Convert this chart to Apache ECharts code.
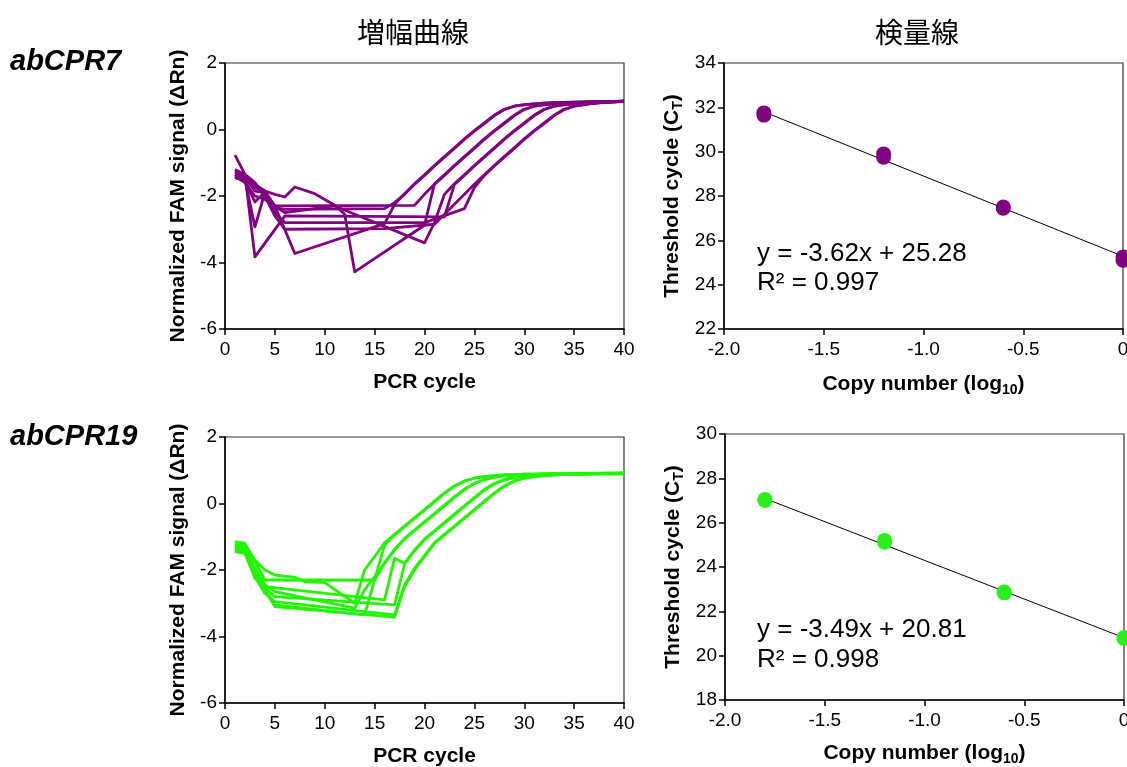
<!DOCTYPE html>
<html><head><meta charset="utf-8">
<script src="https://cdn.jsdelivr.net/npm/echarts@6/dist/echarts.min.js"></script>
<style>html,body{margin:0;padding:0;background:#fff}#c{width:1127px;height:767px}</style>
</head><body><div id="c"></div><script>
// ---------- data ----------
const titles = ['増幅曲線', '検量線'];
const geneLabels = ['abCPR7', 'abCPR19'];
const ampTicksX = [0, 40, 5];
const ampTicksY = [-6, 2, 2];

// abCPR7 amplification curves [cycle, normalized signal]
const p7_A1 = [[1,-1.3],[2,-1.45],[3,-1.85],[4,-1.9],[5,-2.35],[6,-2.4],[16,-2.38],[17,-2.2],[18,-1.95],[19,-1.65],[20,-1.38],[21,-1.1],[22,-0.83],[23,-0.57],[24,-0.3],[25,-0.05],[26,0.18],[27,0.42],[28,0.6],[29,0.7],[30,0.74],[31,0.77],[32,0.79],[33,0.805],[34,0.815],[35,0.825],[36,0.83],[37,0.835],[38,0.84],[39,0.845],[40,0.85]];
const p7_A2 = [[1,-1.4],[2,-1.6],[3,-2.0],[4,-2.1],[5,-2.3],[7,-3.73],[16,-2.83],[17,-2.25],[18,-1.93],[19,-1.63],[20,-1.36],[21,-1.08],[22,-0.81],[23,-0.55],[24,-0.28],[25,-0.03],[26,0.2],[27,0.43],[28,0.61],[29,0.7],[30,0.745],[31,0.77],[32,0.79],[33,0.805],[34,0.815],[35,0.825],[36,0.83],[37,0.835],[38,0.84],[39,0.845],[40,0.85]];
const p7_B1 = [[1,-1.25],[2,-1.4],[3,-1.65],[4,-1.85],[5,-2.3],[19,-2.28],[20,-1.95],[21,-1.65],[22,-1.38],[23,-1.1],[24,-0.83],[25,-0.57],[26,-0.3],[27,-0.05],[28,0.18],[29,0.42],[30,0.6],[31,0.7],[32,0.74],[33,0.77],[34,0.79],[35,0.805],[36,0.815],[37,0.825],[38,0.83],[39,0.84],[40,0.85]];
const p7_B2 = [[1,-1.35],[2,-1.5],[3,-1.75],[4,-1.85],[5,-1.95],[6,-2.03],[7,-1.73],[9,-1.93],[11,-2.28],[12,-2.55],[13,-4.28],[20,-2.88],[21,-1.63],[22,-1.36],[23,-1.08],[24,-0.81],[25,-0.55],[26,-0.28],[27,-0.03],[28,0.2],[29,0.43],[30,0.61],[31,0.7],[32,0.745],[33,0.77],[34,0.79],[35,0.805],[36,0.815],[37,0.825],[38,0.83],[39,0.84],[40,0.85]];
const p7_C1 = [[1,-0.77],[2,-1.35],[3,-3.83],[6,-2.6],[22,-2.63],[23,-1.65],[24,-1.38],[25,-1.1],[26,-0.83],[27,-0.57],[28,-0.3],[29,-0.05],[30,0.18],[31,0.42],[32,0.6],[33,0.7],[34,0.74],[35,0.77],[36,0.79],[37,0.805],[38,0.82],[39,0.835],[40,0.845]];
const p7_C2 = [[1,-1.45],[2,-1.55],[3,-2.18],[4,-1.88],[5,-2.3],[6,-2.5],[11,-2.3],[20,-3.41],[21,-2.8],[22,-1.95],[23,-1.63],[24,-1.36],[25,-1.08],[26,-0.81],[27,-0.55],[28,-0.28],[29,-0.03],[30,0.2],[31,0.43],[32,0.61],[33,0.7],[34,0.745],[35,0.77],[36,0.79],[37,0.805],[38,0.82],[39,0.835],[40,0.845]];
const p7_D1 = [[1,-1.35],[2,-1.5],[3,-2.93],[4,-1.9],[5,-2.5],[6,-2.8],[20,-2.8],[24,-2.38],[25,-1.75],[26,-1.38],[27,-1.1],[28,-0.83],[29,-0.57],[30,-0.3],[31,-0.05],[32,0.18],[33,0.42],[34,0.6],[35,0.7],[36,0.75],[37,0.79],[38,0.815],[39,0.835],[40,0.85]];
const p7_D2 = [[1,-1.2],[2,-1.35],[3,-1.6],[4,-2.0],[5,-2.6],[6,-3.0],[16,-2.98],[21,-2.85],[23,-2.25],[24,-1.95],[25,-1.65],[26,-1.36],[27,-1.08],[28,-0.81],[29,-0.55],[30,-0.28],[31,-0.03],[32,0.2],[33,0.43],[34,0.61],[35,0.7],[36,0.75],[37,0.79],[38,0.815],[39,0.835],[40,0.85]];

// abCPR19 amplification curves
const p19_A1 = [[1,-1.15],[2,-1.2],[3,-1.75],[4,-2.3],[15,-2.3],[16,-1.25],[17,-0.95],[18,-0.7],[19,-0.45],[20,-0.2],[21,0.05],[22,0.3],[23,0.52],[24,0.67],[25,0.76],[26,0.81],[27,0.84],[28,0.86],[29,0.87],[30,0.88],[31,0.885],[32,0.89],[33,0.895],[34,0.9],[35,0.9],[36,0.905],[37,0.905],[38,0.91],[39,0.91],[40,0.91]];
const p19_A2 = [[1,-1.3],[2,-1.25],[3,-1.7],[4,-2.0],[5,-2.15],[7,-2.22],[8,-2.35],[10,-2.38],[13,-3.0],[14,-2.0],[15,-1.6],[16,-1.18],[17,-0.93],[18,-0.68],[19,-0.43],[20,-0.18],[21,0.07],[22,0.32],[23,0.53],[24,0.68],[25,0.76],[26,0.81],[27,0.84],[28,0.86],[29,0.87],[30,0.88],[31,0.885],[32,0.89],[33,0.895],[34,0.9],[35,0.9],[36,0.905],[37,0.905],[38,0.91],[39,0.91],[40,0.91]];
const p19_B1 = [[1,-1.2],[2,-1.3],[3,-1.95],[4,-2.45],[5,-2.65],[13,-3.15],[14,-2.6],[15,-2.2],[16,-1.8],[17,-1.4],[18,-1.07],[19,-0.82],[20,-0.57],[21,-0.32],[22,-0.07],[23,0.18],[24,0.42],[25,0.6],[26,0.72],[27,0.79],[28,0.83],[29,0.85],[30,0.865],[31,0.875],[32,0.883],[33,0.888],[34,0.893],[35,0.897],[36,0.9],[37,0.903],[38,0.905],[39,0.908],[40,0.91]];
const p19_B2 = [[1,-1.35],[2,-1.4],[3,-2.1],[4,-2.6],[5,-3.05],[14,-3.35],[15,-2.3],[16,-1.78],[17,-1.38],[18,-1.05],[19,-0.8],[20,-0.55],[21,-0.3],[22,-0.05],[23,0.2],[24,0.43],[25,0.61],[26,0.72],[27,0.79],[28,0.83],[29,0.85],[30,0.865],[31,0.875],[32,0.883],[33,0.888],[34,0.893],[35,0.897],[36,0.9],[37,0.903],[38,0.905],[39,0.908],[40,0.91]];
const p19_C1 = [[1,-1.25],[2,-1.35],[3,-2.2],[4,-2.5],[16,-2.9],[17,-1.65],[18,-1.8],[19,-1.4],[20,-1.07],[21,-0.82],[22,-0.57],[23,-0.32],[24,-0.07],[25,0.18],[26,0.42],[27,0.6],[28,0.72],[29,0.79],[30,0.83],[31,0.85],[32,0.865],[33,0.875],[34,0.883],[35,0.888],[36,0.893],[37,0.897],[38,0.9],[39,0.903],[40,0.905]];
const p19_C2 = [[1,-1.4],[2,-1.45],[3,-2.25],[4,-2.55],[5,-2.8],[17,-3.05],[18,-1.82],[19,-1.42],[20,-1.09],[21,-0.84],[22,-0.59],[23,-0.34],[24,-0.09],[25,0.16],[26,0.4],[27,0.59],[28,0.71],[29,0.78],[30,0.83],[31,0.85],[32,0.865],[33,0.875],[34,0.883],[35,0.888],[36,0.893],[37,0.897],[38,0.9],[39,0.903],[40,0.905]];
const p19_D1 = [[1,-1.3],[2,-1.35],[3,-2.0],[4,-2.6],[5,-3.1],[17,-3.42],[18,-2.5],[19,-2.0],[20,-1.6],[21,-1.2],[22,-0.95],[23,-0.7],[24,-0.45],[25,-0.2],[26,0.05],[27,0.3],[28,0.52],[29,0.67],[30,0.76],[31,0.81],[32,0.84],[33,0.86],[34,0.87],[35,0.88],[36,0.885],[37,0.89],[38,0.895],[39,0.9],[40,0.905]];
const p19_D2 = [[1,-1.45],[2,-1.5],[3,-2.2],[4,-2.7],[5,-2.95],[17,-3.35],[18,-2.45],[19,-1.95],[20,-1.57],[21,-1.18],[22,-0.93],[23,-0.68],[24,-0.43],[25,-0.18],[26,0.07],[27,0.31],[28,0.53],[29,0.68],[30,0.76],[31,0.81],[32,0.84],[33,0.86],[34,0.87],[35,0.88],[36,0.885],[37,0.89],[38,0.895],[39,0.9],[40,0.905]];

// standard curves
const logCopies = [-1.8, -1.8, -1.2, -1.2, -0.6, -0.6, 0, 0];
const ct7 = [31.75, 31.65, 29.9, 29.75, 27.5, 27.45, 25.25, 25.1];
const ct19 = [27.05, 27.0, 25.2, 25.12, 22.87, 22.83, 20.82, 20.78];
const fit7 = [-3.62, 25.28];   // slope, intercept
const fit19 = [-3.49, 20.81];
const r2 = [0.997, 0.998];
const fitRange = [-1.8, 0];
const ctRange7 = [22, 34];
const ctRange19 = [18, 30];
const logTicks = [-2, 0, 0.5];

const purple = '#800080';
const green = '#22f500';
const dotGreen = '#2bef1a';
const FF = '"Liberation Sans", Arial, sans-serif';

// ---------- chart ----------
const grids = [
  {left: 225, top: 63, width: 399, height: 266},
  {left: 724, top: 63, width: 399, height: 266},
  {left: 225, top: 437, width: 399, height: 266},
  {left: 725, top: 434, width: 399, height: 266}
].map(g => Object.assign(g, {show: true, borderColor: '#333', borderWidth: 1.2, backgroundColor: 'transparent',
  containLabel: false, outerBoundsMode: 'none'}));

const axisLine = {show: true, onZero: false, lineStyle: {color: '#000', width: 1.5}};
const axisTick = {show: true, inside: false, length: 6, lineStyle: {color: '#000', width: 1.5}};
const labelStyle = {color: '#000', fontSize: 19, fontFamily: FF};
const nameStyle = {color: '#000', fontSize: 21, fontWeight: 'bold', fontFamily: FF, lineHeight: 26,
  rich: {s: {fontSize: 14, fontWeight: 'bold', fontFamily: FF, color: '#000', lineHeight: 14, verticalAlign: 'bottom'}}};

function xAx(gi, rng, name, fmt, gap) {
  return {type: 'value', gridIndex: gi, min: rng[0], max: rng[1], interval: rng[2],
    axisLine, axisTick, splitLine: {show: false},
    axisLabel: Object.assign({margin: 11, formatter: fmt}, labelStyle),
    name, nameLocation: 'middle', nameGap: gap, nameTextStyle: nameStyle};
}
function yAx(gi, min, max, name, gap) {
  return {type: 'value', gridIndex: gi, min, max, interval: 2,
    axisLine, axisTick, splitLine: {show: false},
    axisLabel: Object.assign({margin: 8}, labelStyle),
    name, nameLocation: 'middle', nameGap: gap, nameTextStyle: nameStyle};
}
const logFmt = v => (v === 0 ? '0' : v.toFixed(1));

const xAxes = [
  xAx(0, ampTicksX, 'PCR cycle', v => String(v), 40),
  xAx(1, logTicks, 'Copy number (log{s|10})', logFmt, 42),
  xAx(2, ampTicksX, 'PCR cycle', v => String(v), 40),
  xAx(3, logTicks, 'Copy number (log{s|10})', logFmt, 40)
];
const yAxes = [
  yAx(0, ampTicksY[0], ampTicksY[1], 'Normalized FAM signal (ΔRn)', 34),
  yAx(1, ctRange7[0], ctRange7[1], 'Threshold cycle (C{s|T})', 39),
  yAx(2, ampTicksY[0], ampTicksY[1], 'Normalized FAM signal (ΔRn)', 34),
  yAx(3, ctRange19[0], ctRange19[1], 'Threshold cycle (C{s|T})', 39)
];

function ampSeries(data, gi, color) {
  return {type: 'line', xAxisIndex: gi, yAxisIndex: gi, data, symbol: 'none', smooth: false,
    lineStyle: {color, width: 2.8, join: 'round'}, silent: true, animation: false};
}
const curves7 = [p7_A1, p7_A2, p7_B1, p7_B2, p7_C1, p7_C2, p7_D1, p7_D2];
const curves19 = [p19_A1, p19_A2, p19_B1, p19_B2, p19_C1, p19_C2, p19_D1, p19_D2];

function fitLine(fit, gi) {
  return {type: 'line', xAxisIndex: gi, yAxisIndex: gi, symbol: 'none', z: 2,
    data: fitRange.map(x => [x, fit[0] * x + fit[1]]),
    lineStyle: {color: '#000', width: 1}, animation: false};
}
function dots(ys, gi, color) {
  return {type: 'scatter', xAxisIndex: gi, yAxisIndex: gi, symbolSize: 15, clip: false, z: 3,
    data: logCopies.map((x, i) => [x, ys[i]]), itemStyle: {color, opacity: 1}, animation: false};
}

const series = []
  .concat(curves7.map(d => ampSeries(d, 0, purple)))
  .concat(curves19.map(d => ampSeries(d, 2, green)))
  .concat([fitLine(fit7, 1), dots(ct7, 1, purple), fitLine(fit19, 3), dots(ct19, 3, dotGreen)]);

function eq(fit) {
  const b = fit[1].toFixed(2), m = fit[0].toFixed(2);
  return 'y = ' + m + 'x + ' + b;
}
function txt(x, y, text, font, align) {
  return {type: 'text', x, y, silent: true,
    style: {text, font, fill: '#000', textAlign: align || 'left', textVerticalAlign: 'middle', align: align || 'left', verticalAlign: 'middle'}};
}
const eqFont = '26px ' + FF;
const graphic = [
  txt(413, 32, titles[0], '28px "Noto Sans CJK JP"', 'center'),
  txt(917, 32, titles[1], '28px "Noto Sans CJK JP"', 'center'),
  txt(10, 62, geneLabels[0], 'italic bold 29px ' + FF),
  txt(10, 437, geneLabels[1], 'italic bold 29px ' + FF),
  txt(757, 254, eq(fit7), eqFont),
  txt(757, 283, 'R² = ' + r2[0].toFixed(3), eqFont),
  txt(757, 630, eq(fit19), eqFont),
  txt(757, 660, 'R² = ' + r2[1].toFixed(3), eqFont)
];

const chart = echarts.init(document.getElementById('c'), null, {renderer: 'canvas'});
chart.setOption({
  animation: false,
  backgroundColor: '#fff',
  grid: grids,
  xAxis: xAxes,
  yAxis: yAxes,
  series,
  graphic
});
</script></body></html>
